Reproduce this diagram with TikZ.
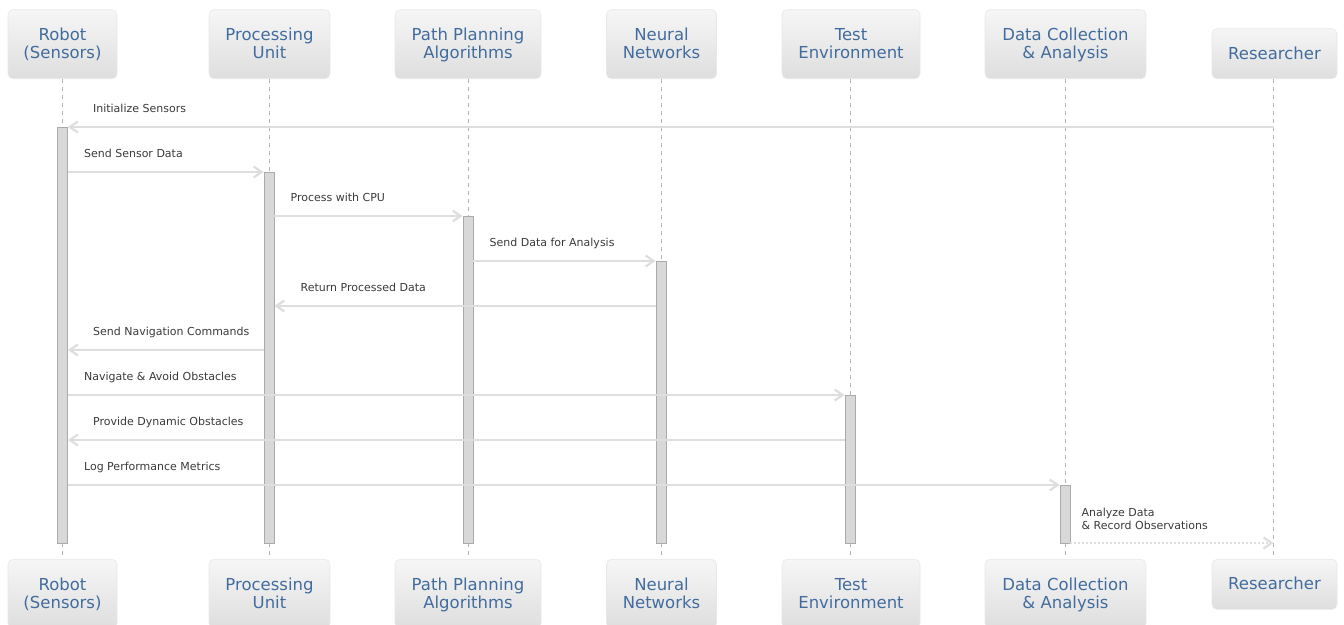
\documentclass[tikz,border=0pt]{standalone}
\usepackage{fontspec}
\setmainfont{DejaVu Sans}
\usetikzlibrary{arrows.meta}

\definecolor{partext}{RGB}{66,108,158}
\definecolor{msgtext}{RGB}{58,58,58}
\definecolor{msgline}{RGB}{222,222,222}
\definecolor{lifecol}{RGB}{180,180,180}
\definecolor{barfill}{RGB}{216,216,216}
\definecolor{barline}{RGB}{170,170,170}
\definecolor{boxtop}{RGB}{246,246,246}
\definecolor{boxbot}{RGB}{222,222,222}
\definecolor{boxedge}{RGB}{232,232,232}

% fixed line heights so every participant title sits on the same baselines
\newcommand{\tstrut}{\rule{0pt}{15pt}}
\newcommand{\bstrut}{\rule[-4pt]{0pt}{4pt}}
\newcommand{\ptwo}[2]{\tstrut#1\\#2\bstrut}
\newcommand{\pone}[1]{\tstrut#1\bstrut}

\tikzset{
  participant/.style={rounded corners=5pt, top color=boxtop, bottom color=boxbot,
    draw=boxedge, line width=0.6pt, text=partext,
    font=\fontsize{16.5}{18}\selectfont, align=center, inner sep=0pt},
  twoline/.style={minimum height=69pt},
  oneline/.style={minimum height=50pt},
  lifeline/.style={draw=lifecol, line width=1pt, dash pattern=on 4pt off 4pt},
  actbar/.style={draw=barline, fill=barfill, line width=0.8pt, minimum width=10pt,
    inner sep=0pt, anchor=north},
  msg/.style={draw=msgline, line width=2.6pt,
    -{Straight Barb[length=8pt, width=11pt, line width=2.2pt]}},
  retmsg/.style={msg, dash pattern=on 2pt off 2pt},
  msglabel/.style={text=msgtext, font=\fontsize{11}{13}\selectfont, inner sep=0pt,
    anchor=base west, align=left}
}

\begin{document}
\begin{tikzpicture}[x=1pt, y=-1pt]
  \useasboundingbox (0,0) rectangle (1344,624);
  \clip (0,0) rectangle (1344,624);

  % participants, top row
  \node[participant, twoline, minimum width=109pt, anchor=south] (t1) at (62.5,79) {\ptwo{Robot}{(Sensors)}};
  \node[participant, twoline, minimum width=121pt, anchor=south] (t2) at (269.5,79) {\ptwo{Processing}{Unit}};
  \node[participant, twoline, minimum width=146pt, anchor=south] (t3) at (468,79) {\ptwo{Path Planning}{Algorithms}};
  \node[participant, twoline, minimum width=110pt, anchor=south] (t4) at (661.5,79) {\ptwo{Neural}{Networks}};
  \node[participant, twoline, minimum width=138pt, anchor=south] (t5) at (851,79) {\ptwo{Test}{Environment}};
  \node[participant, twoline, minimum width=161pt, anchor=south] (t6) at (1065.5,79) {\ptwo{Data Collection}{\&{} Analysis}};
  \node[participant, oneline, minimum width=125pt, anchor=south] (t7) at (1274.5,79) {\pone{Researcher}};

  % participants, bottom row
  \node[participant, twoline, minimum width=109pt, anchor=north] (b1) at (62.5,559) {\ptwo{Robot}{(Sensors)}};
  \node[participant, twoline, minimum width=121pt, anchor=north] (b2) at (269.5,559) {\ptwo{Processing}{Unit}};
  \node[participant, twoline, minimum width=146pt, anchor=north] (b3) at (468,559) {\ptwo{Path Planning}{Algorithms}};
  \node[participant, twoline, minimum width=110pt, anchor=north] (b4) at (661.5,559) {\ptwo{Neural}{Networks}};
  \node[participant, twoline, minimum width=138pt, anchor=north] (b5) at (851,559) {\ptwo{Test}{Environment}};
  \node[participant, twoline, minimum width=161pt, anchor=north] (b6) at (1065.5,559) {\ptwo{Data Collection}{\&{} Analysis}};
  \node[participant, oneline, minimum width=125pt, anchor=north] (b7) at (1274.5,559) {\pone{Researcher}};

  % lifelines
  \draw[lifeline] (62.5,79) -- (62.5,559);
  \draw[lifeline] (269,79) -- (269,559);
  \draw[lifeline] (468,79) -- (468,559);
  \draw[lifeline] (661,79) -- (661,559);
  \draw[lifeline] (850,79) -- (850,559);
  \draw[lifeline] (1065,79) -- (1065,559);
  \draw[lifeline] (1273.5,79) -- (1273.5,559);
  \coordinate (res) at (1273.5,300);

  % activation bars
  \node[actbar, minimum height=416pt] (rb) at (62.5,127) {};
  \node[actbar, minimum height=371pt] (pb) at (269,172) {};
  \node[actbar, minimum height=327pt] (ab) at (468,216) {};
  \node[actbar, minimum height=282pt] (nb) at (661,261) {};
  \node[actbar, minimum height=148pt] (tb) at (850,395) {};
  \node[actbar, minimum height=58pt]  (db) at (1065,485) {};

  % message rows
  \coordinate (y1) at (0,127);
  \coordinate (y2) at (0,172);
  \coordinate (y3) at (0,216);
  \coordinate (y4) at (0,261);
  \coordinate (y5) at (0,306);
  \coordinate (y6) at (0,350);
  \coordinate (y7) at (0,395);
  \coordinate (y8) at (0,440);
  \coordinate (y9) at (0,485);
  \coordinate (y10) at (0,543);

  % messages
  \draw[msg] (res |- y1) -- (rb.east |- y1);
  \path (rb.east |- y1) ++(25,-15) node[msglabel] (l1) {Initialize Sensors};

  \draw[msg] (rb.east |- y2) -- (pb.west |- y2);
  \path (rb.east |- y2) ++(16,-15) node[msglabel] (l2) {Send Sensor Data};

  \draw[msg] (pb.east |- y3) -- (ab.west |- y3);
  \path (pb.east |- y3) ++(16,-15) node[msglabel] (l3) {Process with CPU};

  \draw[msg] (ab.east |- y4) -- (nb.west |- y4);
  \path (ab.east |- y4) ++(16,-15) node[msglabel] (l4) {Send Data for Analysis};

  \draw[msg] (nb.west |- y5) -- (pb.east |- y5);
  \path (pb.east |- y5) ++(26,-15) node[msglabel] (l5) {Return Processed Data};

  \draw[msg] (pb.west |- y6) -- (rb.east |- y6);
  \path (rb.east |- y6) ++(25,-15) node[msglabel] (l6) {Send Navigation Commands};

  \draw[msg] (rb.east |- y7) -- (tb.west |- y7);
  \path (rb.east |- y7) ++(16,-15) node[msglabel] (l7) {Navigate \& Avoid Obstacles};

  \draw[msg] (tb.west |- y8) -- (rb.east |- y8);
  \path (rb.east |- y8) ++(25,-15) node[msglabel] (l8) {Provide Dynamic Obstacles};

  \draw[msg] (rb.east |- y9) -- (db.west |- y9);
  \path (rb.east |- y9) ++(16,-15) node[msglabel] (l9) {Log Performance Metrics};

  \draw[retmsg] (db.east |- y10) -- (res |- y10);
  \path (db.east |- y10) ++(11,-14) node[msglabel] (l10) {Analyze Data\\\&{} Record Observations};
\end{tikzpicture}
\end{document}
